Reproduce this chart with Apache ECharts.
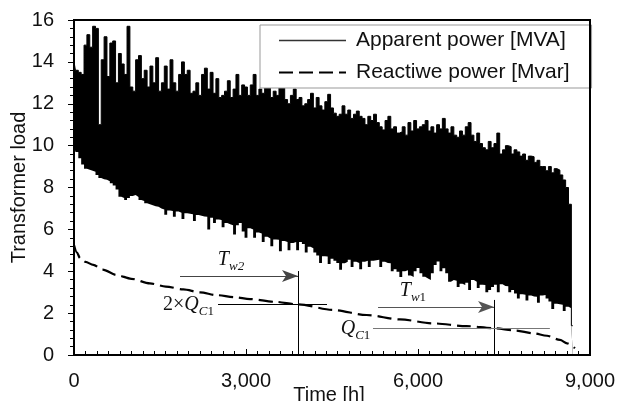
<!DOCTYPE html>
<html lang="en">
<head>
<meta charset="UTF-8">
<title>Transformer load</title>
<style>
  html, body { margin: 0; padding: 0; background: #fff; }
  #main { width: 619px; height: 401px; }
</style>
<script src="https://cdn.jsdelivr.net/npm/echarts@6/dist/echarts.min.js"></script>
</head>
<body>
<div id="main"></div>
<script>
// apparent power: upper / lower envelope of the hourly trace, one value every 50 h (0 .. 8700)
var STEP_H = 50;
var hiLoad = [
  14.0, 13.6, 13.5, 13.4, 14.8, 15.3, 14.7, 15.7, 15.6, 11.0,
  14.1, 15.2, 13.3, 14.9, 15.0, 13.0, 14.4, 13.9, 13.4, 15.7,
  12.8, 12.6, 14.1, 14.3, 13.2, 13.6, 12.8, 13.8, 13.0, 14.2,
  12.6, 13.0, 13.8, 12.7, 14.1, 13.0, 12.6, 13.4, 14.0, 13.4,
  13.6, 12.5, 12.6, 13.0, 12.4, 13.4, 13.7, 12.7, 13.5, 12.5,
  13.2, 12.3, 12.4, 12.6, 13.1, 12.3, 12.7, 13.4, 12.4, 12.9,
  12.8, 12.4, 12.9, 13.4, 12.4, 12.7, 12.5, 12.8, 12.9, 12.3,
  12.6, 12.4, 12.8, 12.8, 12.2, 12.0, 12.4, 12.7, 12.2, 12.3,
  11.9, 12.0, 12.2, 12.5, 11.8, 12.3, 11.9, 11.7, 12.1, 12.45,
  11.8, 11.55, 11.4, 11.5, 11.9, 11.5, 11.7, 11.3, 11.5, 11.65,
  11.4, 11.3, 11.0, 11.4, 11.2, 11.5, 11.1, 10.9, 10.75, 11.2,
  11.4, 10.8, 10.9, 10.6, 10.66, 10.9, 10.5, 11.1, 10.7, 11.2,
  10.8, 10.9, 11.0, 11.2, 10.7, 10.9, 10.6, 11.0, 10.8, 11.3,
  10.8, 10.6, 10.9, 10.5, 10.4, 10.7, 10.5, 10.9, 11.1, 10.5,
  10.2, 10.6, 10.1, 9.9, 9.8, 10.2, 9.9, 10.1, 10.6, 9.6,
  9.8, 10.0, 9.95, 9.6, 9.8, 9.7, 9.5, 9.6, 9.3, 9.5,
  9.47, 9.2, 9.3, 9.0, 9.0, 8.8, 9.0, 8.7, 8.9, 8.83,
  8.6, 8.36, 8.0, 7.2, 1.4
];
var loLoad = [
  10.0, 9.7, 9.4, 9.1, 8.9, 8.85, 8.8, 8.75, 8.6, 8.45,
  8.4, 8.37, 8.3, 8.2, 8.1, 7.9, 7.56, 7.5, 7.4, 7.5,
  7.6, 7.64, 7.55, 7.4, 7.35, 7.25, 7.2, 7.15, 7.1, 7.08,
  7.0, 6.95, 6.7, 6.9, 6.88, 6.6, 6.85, 6.8, 6.5, 6.77,
  6.75, 6.72, 6.4, 6.69, 6.65, 6.62, 6.6, 6.0, 6.55, 6.3,
  6.47, 6.45, 6.1, 6.3, 6.25, 6.2, 5.75, 6.2, 6.3, 5.9,
  5.6, 6.05, 6.0, 5.6, 5.85, 5.8, 5.4, 5.65, 5.57, 5.2,
  5.52, 5.5, 4.95, 5.45, 5.4, 5.0, 5.35, 5.4, 5.0, 5.4,
  5.3, 4.9, 5.17, 5.1, 4.9, 4.75, 4.4, 4.72, 4.7, 4.35,
  4.6, 4.5, 4.4, 4.07, 4.38, 4.45, 4.55, 4.2, 4.45, 4.4,
  4.1, 4.45, 4.5, 4.2, 4.5, 4.52, 4.55, 4.2, 4.45, 4.4,
  4.38, 4.0, 4.1, 3.98, 3.73, 4.0, 4.05, 3.8, 3.73, 4.0,
  4.15, 3.9, 3.74, 3.65, 3.58, 3.9, 4.3, 4.46, 4.0, 4.14,
  3.9, 3.5, 3.58, 3.55, 3.25, 3.4, 3.34, 3.45, 3.1, 3.58,
  3.5, 3.2, 3.35, 3.34, 3.0, 3.1, 3.25, 3.35, 3.0, 3.38,
  3.3, 3.28, 3.0, 3.1, 2.94, 2.7, 2.9, 2.88, 2.6, 2.84,
  2.8, 2.78, 2.5, 2.84, 2.86, 2.7, 2.55, 2.2, 2.45, 2.42,
  2.4, 2.1, 2.3, 2.23, 1.35
];

// reactive power
var reactHours  = [0, 50, 105, 200, 337, 500, 744, 1000, 1325, 1600, 1907, 2200, 2488, 2800, 3070,
                   3500, 3912, 4522, 5104, 5685, 6267, 6848, 7326, 7700, 8010, 8250, 8476, 8600, 8737];
var reactValues = [5.25, 4.9, 4.63, 4.45, 4.3, 4.08, 3.82, 3.64, 3.42, 3.27, 3.13, 2.99, 2.86, 2.76, 2.67,
                   2.54, 2.42, 2.15, 1.91, 1.7, 1.51, 1.38, 1.28, 1.17, 1.04, 0.92, 0.72, 0.56, 0.32];

// annotations (hours, load)
var tw2Arrow = [1849, 3907, 3.77];
var tw2Drop  = [3907, 4.01];
var q2Line   = [2512, 4413, 2.43];
var tw1Arrow = [5303, 7326, 2.29];
var tw1Drop  = [7326, 2.63];
var q1Line   = [5215, 8300, 1.29];

var xTicks = [0, 3000, 6000, 9000];
var yTicks = [0, 2, 4, 6, 8, 10, 12, 14, 16];

var SANS = 'Liberation Sans, Arial, sans-serif';
var SERIF = 'Liberation Serif, Times New Roman, serif';

var chart = echarts.init(document.getElementById('main'));

var hours = hiLoad.map(function (v, i) { return i * STEP_H; });
var upperPts = hours.map(function (h, i) { return [h, hiLoad[i]]; });
var lowerPts = hours.map(function (h, i) { return [h, loLoad[i]]; });
var reactPts = reactHours.map(function (h, i) { return [h, reactValues[i]]; });

var rich = {
  i:  { fontFamily: SERIF, fontStyle: 'italic', fontSize: 20, color: '#111' },
  r:  { fontFamily: SERIF, fontSize: 20, color: '#111' },
  si: { fontFamily: SERIF, fontStyle: 'italic', fontSize: 13, color: '#111', padding: [14, 0, 0, 0] },
  sr: { fontFamily: SERIF, fontSize: 13, color: '#111', padding: [14, 0, 0, 0] }
};

var option = {
  animation: false,
  grid: {
    left: 74, right: 29, top: 20, bottom: 46, outerBoundsMode: 'none',
    show: true, borderColor: '#000', borderWidth: 2, z: 5
  },
  legend: {
    data: [
      { name: 'Apparent power [MVA]', lineStyle: { color: '#333', width: 1.5 } },
      { name: 'Reactiwe power [Mvar]' }
    ],
    orient: 'vertical', left: 260, top: 25,
    padding: [5, 22, 5, 18], itemGap: 11, itemWidth: 67, itemHeight: 14,
    borderColor: '#999', borderWidth: 1, backgroundColor: '#fff',
    selectedMode: false,
    itemStyle: { opacity: 0, borderWidth: 0 },
    textStyle: { fontFamily: SANS, fontSize: 21, color: '#111', padding: [0, 0, 0, 5] }
  },
  xAxis: {
    type: 'value', min: xTicks[0], max: xTicks[xTicks.length - 1], interval: 3000, z: 6,
    name: 'Time [h]', nameLocation: 'middle', nameGap: 30, nameMoveOverlap: false,
    nameTextStyle: { fontFamily: SANS, fontSize: 20, color: '#111', padding: [0, 6, 0, 0] },
    axisLine: { lineStyle: { color: '#000', width: 2 } },
    axisTick: { inside: true, length: 6, lineStyle: { color: '#000', width: 1 } },
    minorTick: { show: true, splitNumber: 15, length: 4, lineStyle: { color: '#000', width: 1 } },
    splitLine: { show: false },
    axisLabel: {
      margin: 16, fontFamily: SANS, fontSize: 20, color: '#111',
      formatter: function (v) { return v.toLocaleString('en-US'); }
    }
  },
  yAxis: {
    type: 'value', min: yTicks[0], max: yTicks[yTicks.length - 1], interval: 2, z: 6,
    name: 'Transformer load', nameLocation: 'middle', nameGap: 45, nameMoveOverlap: false,
    nameTextStyle: { fontFamily: SANS, fontSize: 20, color: '#111' },
    axisLine: { show: true, lineStyle: { color: '#000', width: 2 } },
    axisTick: { show: true, length: 6, lineStyle: { color: '#000', width: 1 } },
    minorTick: { show: true, splitNumber: 5, length: 4, lineStyle: { color: '#000', width: 1 } },
    splitLine: { show: false },
    axisLabel: { margin: 20, fontFamily: SANS, fontSize: 20, color: '#111' }
  },
  series: [
    {
      name: 'Apparent power [MVA]', type: 'line', data: upperPts, symbol: 'none', silent: true,
      step: 'middle',
      itemStyle: { color: '#000' },
      lineStyle: { color: '#000', width: 1 },
      areaStyle: { color: '#000', opacity: 1, origin: 'start' }
    },
    {
      // white fill under the lower envelope leaves only the band visible
      name: 'lower', type: 'line', data: lowerPts, symbol: 'none', silent: true,
      step: 'middle',
      itemStyle: { color: '#fff' },
      lineStyle: { color: '#fff', width: 0, opacity: 0 },
      areaStyle: { color: '#fff', opacity: 1, origin: 'start' }
    },
    {
      name: 'Reactiwe power [Mvar]', type: 'line', data: reactPts, symbol: 'none', silent: true,
      smooth: 0.3, smoothMonotone: 'x', z: 3,
      itemStyle: { color: '#000' },
      lineStyle: { color: '#000', width: 2.2, type: [14, 6] },
      markLine: {
        silent: true, animation: false, symbol: ['none', 'none'], label: { show: false },
        lineStyle: { color: '#000', width: 1, type: 'solid' },
        emphasis: { disabled: true },
        data: [
          [{ coord: [tw2Arrow[0], tw2Arrow[2]], lineStyle: { color: '#444' } },
           { coord: [tw2Arrow[1], tw2Arrow[2]], symbol: 'arrow', symbolSize: [9, 16] }],
          [{ coord: [tw2Drop[0], 0] }, { coord: [tw2Drop[0], tw2Drop[1]] }],
          [{ coord: [q2Line[0], q2Line[2]] }, { coord: [q2Line[1], q2Line[2]] }],
          [{ coord: [tw1Arrow[0], tw1Arrow[2]], lineStyle: { color: '#555' } },
           { coord: [tw1Arrow[1], tw1Arrow[2]], symbol: 'arrow', symbolSize: [9, 16] }],
          [{ coord: [tw1Drop[0], 0] }, { coord: [tw1Drop[0], tw1Drop[1]] }],
          [{ coord: [q1Line[0], q1Line[2]], lineStyle: { color: '#777' } },
           { coord: [q1Line[1], q1Line[2]] }]
        ]
      },
      markPoint: {
        silent: true, animation: false, symbol: 'rect', symbolSize: 1,
        itemStyle: { color: 'rgba(0,0,0,0)' },
        label: { show: true, position: 'inside', rich: rich },
        data: [
          { coord: [2738, 4.55], label: { formatter: '{i|T}{si|w2}' } },
          { coord: [5912, 3.06], label: { formatter: '{i|T}{si|w}{sr|1}' } },
          { coord: [1997, 2.4], label: { formatter: '{r|2×}{i|Q}{si|C}{sr|1}' } },
          { coord: [4910, 1.25], label: { formatter: '{i|Q}{si|C}{sr|1}' } }
        ]
      }
    }
  ]
};

chart.setOption(option);
</script>
</body>
</html>
